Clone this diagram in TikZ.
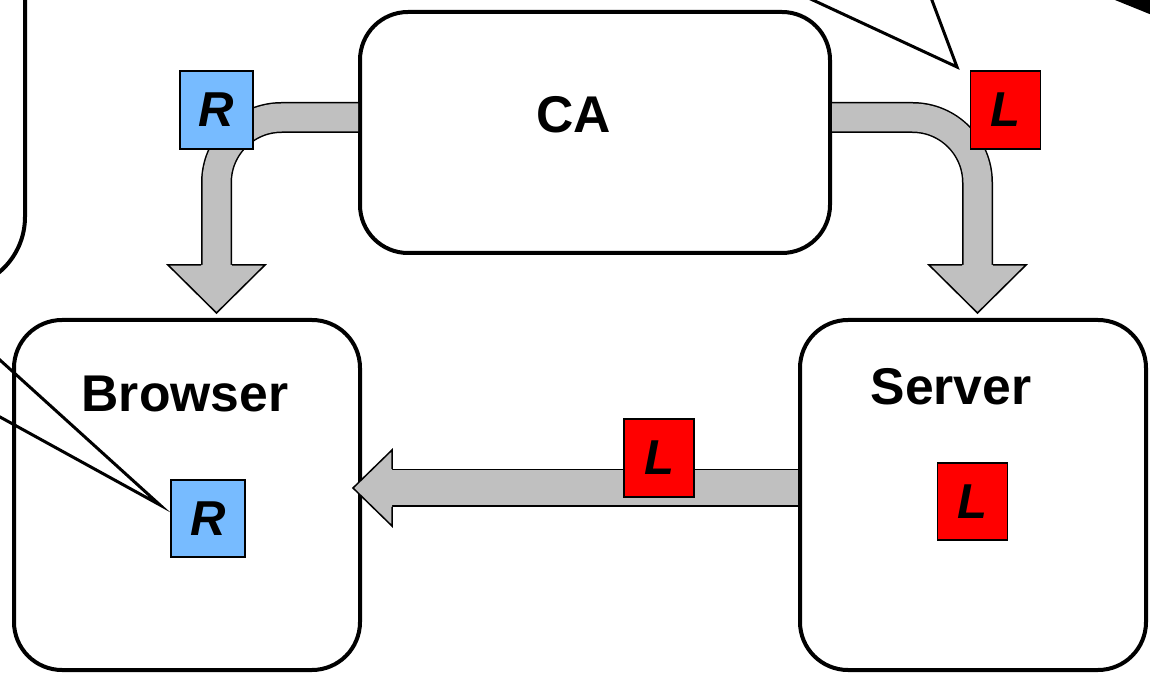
\documentclass[tikz,border=0pt]{standalone}
\usepackage{fontspec}
\setmainfont{Liberation Sans}
\usepackage{tikz}
\usetikzlibrary{calc,positioning}
\definecolor{keyblue}{RGB}{119,187,255}
\definecolor{keyred}{RGB}{255,0,0}
\definecolor{pipegray}{RGB}{192,192,192}
\newdimen\px \px=0.02cm

\begin{document}
\begin{tikzpicture}[x=0.02cm,y=-0.02cm,
    box/.style={draw,line width=4\px,rounded corners=48\px,inner sep=0pt},
    keybox/.style={draw,line width=1.3\px,inner sep=0pt,minimum width=70\px,minimum height=78\px,
      font=\fontsize{27.9}{28}\selectfont\bfseries\itshape},
    rkey/.style={keybox,fill=keyblue},
    lkey/.style={keybox,fill=keyred},
    title/.style={anchor=base,font=\fontsize{29.4}{30}\selectfont\bfseries},
    pipe/.style={double=pipegray,double distance=28\px,line width=1.5\px,rounded corners=65\px},
    head/.style={fill=pipegray,draw=black,line width=1.5\px,line join=miter},
    callout/.style={line width=3\px,line join=miter}]
    \useasboundingbox (0,0) rectangle (1150,675);
    \clip (0,0) rectangle (1150,675);

    \node[box,minimum width=470\px,minimum height=241\px] (ca) at (595,132.5) {};
    \node[box,minimum width=346\px,minimum height=350\px] (browser) at (187,495) {};
    \node[box,minimum width=346\px,minimum height=350\px] (server) at (973,495) {};
    \draw[box,rounded corners=72\px] (-200,-100) rectangle (25,289);

    \node[title] (catitle) at (574,133) {CA};
    \node[title] (browsertitle) at (185,412) {Browser};
    \node[title] (servertitle) at (951,405) {Server};

    \coordinate (headl) at (216.5,265);
    \coordinate (headr) at (977.5,265);
    \coordinate (headm) at (392,488);

    \draw[pipe] ([yshift=15\px]ca.west) -| (headl);
    \draw[pipe] ([yshift=15\px]ca.east) -| (headr);
    \draw[pipe,double distance=35\px] (server.west |- headm) -- (headm);

    \filldraw[head] ($(headl)+(-15.5,0)$) -- ++(-33,0) -- ($(headl)+(0,48)$) -- ($(headl)+(48.5,0)$) -- ++(-33,0);
    \filldraw[head] ($(headr)+(-15.5,0)$) -- ++(-33,0) -- ($(headr)+(0,48)$) -- ($(headr)+(48.5,0)$) -- ++(-33,0);
    \filldraw[head] ($(headm)+(0,-19)$) -- ++(0,-19) -- ($(headm)+(-39,0)$) -- ($(headm)+(0,38)$) -- ++(0,-19);

    \node[rkey,minimum width=73\px] (rca) at (216.5,110) {R};
    \node[lkey] (lca) at (1005.5,110) {L};
    \node[lkey] (lpipe) at (659,458) {L};
    \node[rkey,minimum width=74\px,minimum height=77\px] (rbrowser) at (208,518.5) {R};
    \node[lkey,minimum height=77\px] (lserver) at (972.5,501.5) {L};

    \coordinate (tipl) at (160,505);
    \coordinate (tipr) at (957,67);
    \coordinate (farl1) at (-10,351);
    \coordinate (farl2) at (-10,411.5);
    \coordinate (farr1) at (802,-5);
    \coordinate (farr2) at (930,-5);
    \draw[callout] (farl1) -- (tipl) -- (farl2);
    \draw[callout] (farr1) -- (tipr) -- (farr2);
    \fill (1110,-2) -- (1152,-2) -- (1152,15) -- cycle;
  \end{tikzpicture}
\end{document}
